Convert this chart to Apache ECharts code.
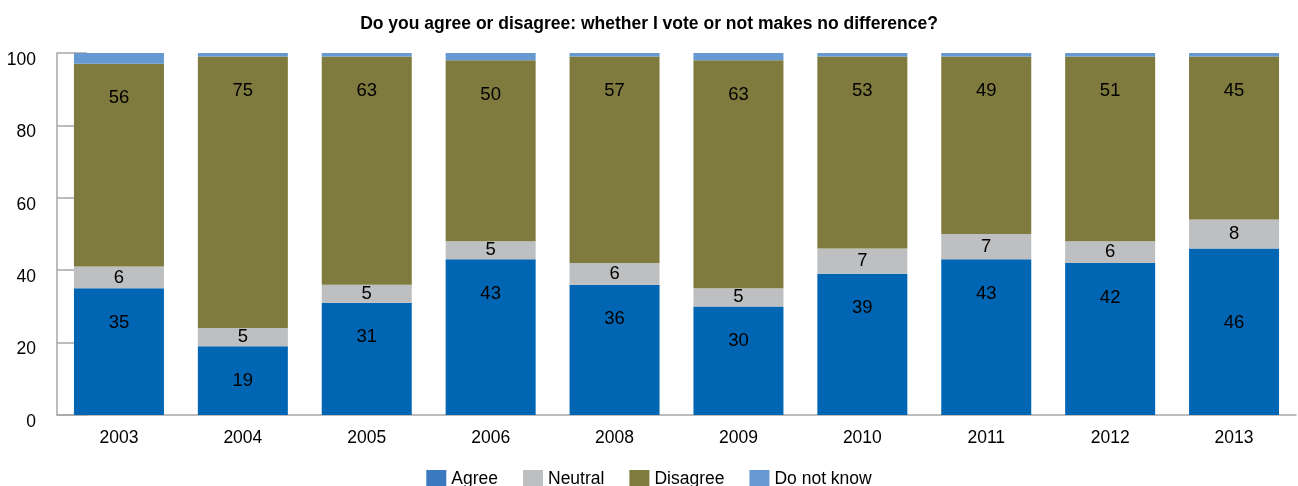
<!DOCTYPE html>
<html>
<head>
<meta charset="utf-8">
<script src="https://cdn.jsdelivr.net/npm/echarts@6/dist/echarts.min.js"></script>
<style>
  html, body { margin: 0; padding: 0; background: #fff; }
  #main { width: 1298px; height: 486px; }
</style>
</head>
<body>
<div id="main"></div>
<script>
var years = ['2003', '2004', '2005', '2006', '2008', '2009', '2010', '2011', '2012', '2013'];
var agree = [35, 19, 31, 43, 36, 30, 39, 43, 42, 46];
var neutral = [6, 5, 5, 5, 6, 5, 7, 7, 6, 8];
var disagree = [56, 75, 63, 50, 57, 63, 53, 49, 51, 45];
var dontKnow = [3, 1, 1, 2, 1, 2, 1, 1, 1, 1];
var yTicks = [0, 20, 40, 60, 80, 100];

var font = '"Liberation Sans", Arial, sans-serif';

// labels sit near the top of the segment, like the original
var topLabel = function (vals, special) {
	return vals.map(function (v, i) {
		var d = { value: v };
		if (special && special[i]) {
			d.label = { distance: special[i] };
		}
		return d;
	});
};

var chart = echarts.init(document.getElementById('main'));
var option = {
	animation: false,
	title: {
		text: 'Do you agree or disagree: whether I vote or not makes no difference?',
		left: 'center',
		top: 10,
		textStyle: { fontFamily: font, fontSize: 17.5, fontWeight: 'bold', color: '#000' }
	},
	legend: {
		bottom: -8,
		left: 'center',
		icon: 'rect',
		itemWidth: 20,
		itemHeight: 19,
		itemGap: 25,
		textStyle: { fontFamily: font, fontSize: 17.5, color: '#000' },
		data: [
			{ name: 'Agree', itemStyle: { color: '#3a79c0' } },
			{ name: 'Neutral', itemStyle: { color: '#bebfc1' } },
			{ name: 'Disagree', itemStyle: { color: '#7f7a3d' } },
			{ name: 'Do not know', itemStyle: { color: '#6699d1' } }
		]
	},
	grid: { left: 57, right: 2, top: 53, bottom: 71 },
	xAxis: {
		type: 'category',
		data: years,
		axisLine: { lineStyle: { color: '#a6a6a6', width: 1.5 } },
		axisTick: { inside: true, length: 8, lineStyle: { color: '#a6a6a6', width: 1.5 } },
		axisLabel: { fontFamily: font, fontSize: 17.5, color: '#000', margin: 14 }
	},
	yAxis: {
		type: 'value',
		min: yTicks[0],
		max: yTicks[yTicks.length - 1],
		interval: 20,
		splitLine: { show: false },
		axisLine: { show: true, lineStyle: { color: '#a6a6a6', width: 1.5 } },
		axisTick: { show: true, inside: true, length: 30, lineStyle: { color: '#a6a6a6', width: 1.5 } },
		axisLabel: { fontFamily: font, fontSize: 17.5, color: '#000', margin: 21, verticalAlign: 'top', lineHeight: 14 }
	},
	series: [{
		name: 'Agree',
		type: 'bar',
		stack: 'all',
		barWidth: 90,
		itemStyle: { color: '#0066b3' },
		label: { show: true, position: 'insideTop', distance: 25, fontFamily: font, fontSize: 18.5, color: '#000' },
		data: topLabel(agree, { 9: 65 })
	}, {
		name: 'Neutral',
		type: 'bar',
		stack: 'all',
		itemStyle: { color: '#bebfc1' },
		label: { show: true, position: 'inside', fontFamily: font, fontSize: 18.5, color: '#000' },
		data: neutral
	}, {
		name: 'Disagree',
		type: 'bar',
		stack: 'all',
		itemStyle: { color: '#7f7a3d' },
		label: { show: true, position: 'insideTop', distance: 25, fontFamily: font, fontSize: 18.5, color: '#000' },
		data: topLabel(disagree)
	}, {
		name: 'Do not know',
		type: 'bar',
		stack: 'all',
		itemStyle: { color: '#6699d1' },
		data: dontKnow
	}]
};
chart.setOption(option);
</script>
</body>
</html>
